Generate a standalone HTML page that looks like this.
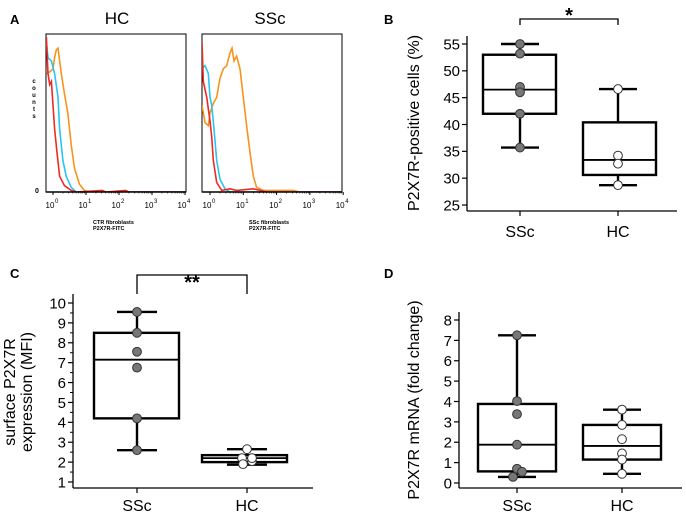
<!DOCTYPE html>
<html><head><meta charset="utf-8"><style>
body{margin:0;background:#fff}
svg{display:block;font-family:"Liberation Sans",Arial,sans-serif}
</style></head><body>
<svg id="fig" width="686" height="516" viewBox="0 0 686 516"></svg>
<script>
// ---------- Panel A data (log10 intensity, relative counts) ----------
const hcOrangeX=[-0.2,-0.1,0.0,0.05,0.1,0.15,0.25,0.35,0.45,0.55,0.65,0.8,0.95,1.1,4];
const hcOrangeY=[0.75,0.76,0.78,0.85,0.9,0.91,0.75,0.62,0.5,0.3,0.15,0.05,0.01,0,0];
const hcBlueX=[-0.2,-0.15,-0.05,0.05,0.15,0.2,0.3,0.4,0.55,0.7,4];
const hcBlueY=[0.95,0.85,0.83,0.75,0.6,0.4,0.2,0.1,0.03,0,0];
const hcRedX=[-0.2,-0.15,-0.1,-0.05,0.0,0.05,0.12,0.2,0.35,0.55,0.7,1.5,1.6,2.2,2.3,4];
const hcRedY=[0.98,0.75,0.68,0.7,0.55,0.4,0.25,0.1,0.04,0.01,0,0.01,0,0.01,0,0];
const ssOrangeX=[-0.24,-0.15,-0.05,0.0,0.1,0.2,0.3,0.4,0.5,0.6,0.66,0.72,0.8,0.9,1.0,1.1,1.2,1.3,1.4,1.6,2.5,2.7,4];
const ssOrangeY=[0.55,0.44,0.42,0.5,0.56,0.6,0.72,0.78,0.8,0.88,0.91,0.83,0.86,0.78,0.6,0.42,0.25,0.1,0.03,0.01,0.01,0,0];
const ssBlueX=[-0.24,-0.15,-0.05,0.0,0.05,0.12,0.2,0.3,0.45,0.6,4];
const ssBlueY=[0.78,0.8,0.75,0.6,0.55,0.4,0.2,0.08,0.02,0,0];
const ssRedX=[-0.24,-0.2,-0.1,0.0,0.05,0.1,0.2,0.35,0.6,0.8,1.3,1.5,1.7,4];
const ssRedY=[0.95,0.7,0.6,0.45,0.35,0.2,0.06,0.01,0.02,0.01,0.02,0.01,0,0];
const decadeLabels=["0","1","2","3","4"];
// ---------- Panel B ----------
const catLabels=["SSc","HC"];
const bTicks=[25,30,35,40,45,50,55];
const bSSc=[55,53.2,47,46,42,35.7];
const bHC=[46.6,34.2,32.7,28.7];
const bStats=[[35.7,42,46.5,53,55],[28.7,30.6,33.4,40.4,46.6]];
// ---------- Panel C ----------
const cTicks=[1,2,3,4,5,6,7,8,9,10];
const cSSc=[9.55,8.5,7.55,6.75,4.2,2.6];
const cHC=[2.65,2.2,2.05,1.9,2.2];
const cStats=[[2.6,4.2,7.15,8.5,9.55],[1.87,2.0,2.2,2.35,2.65]];
// ---------- Panel D ----------
const dTicks=[0,1,2,3,4,5,6,7,8];
const dSSc=[7.25,4.02,3.38,1.88,0.7,0.55,0.3];
const dHC=[3.6,2.85,2.15,1.45,1.15,0.45];
const dStats=[[0.3,0.57,1.88,3.88,7.25],[0.45,1.15,1.82,2.85,3.6]];

const NS="http://www.w3.org/2000/svg";
const svg=document.getElementById('fig');
function el(tag,attrs,parent,text){const e=document.createElementNS(NS,tag);for(const k in attrs)e.setAttribute(k,attrs[k]);if(text!==undefined)e.textContent=text;(parent||svg).appendChild(e);return e;}

// ---- Panel A ----
const gA=el('g',{});


el('text',{x:10,y:24,'font-size':13,'font-weight':'bold'},gA,'A');
function histo(x0,x1,originX,decW,title,titleX,caption,series){
  const yTop=34,yBot=192;
  el('text',{x:titleX,y:24,'font-size':17,'text-anchor':'middle'},gA,title);
  const fr=el('rect',{x:x0,y:yTop,width:x1-x0,height:yBot-yTop,fill:'none',stroke:'#000','stroke-width':1});
  gA.appendChild(fr);
  
  
  const xs=v=>originX+v*decW, ys=c=>yBot-c*(yBot-yTop);
  const cp=el('clipPath',{id:'clip'+title},gA);el('rect',{x:x0,y:yTop,width:x1-x0,height:yBot-yTop},cp);
  series.forEach(s=>{
    const pts=s.x.map((v,i)=>xs(v).toFixed(1)+','+ys(s.y[i]).toFixed(1)).join(' ');
    const p=el('polyline',{points:pts,fill:'none',stroke:s.c,'stroke-width':1.6,'clip-path':'url(#clip'+title+')'},gA);
    
    
  });
  el('line',{x1:x0,y1:yBot,x2:x1,y2:yBot,stroke:'#000','stroke-width':1.5},gA);
  decadeLabels.forEach((d,i)=>{
    const x=xs(i);
    el('line',{x1:x,y1:yBot,x2:x,y2:yBot+3,stroke:'#000'},gA);
    for(let m=2;m<10&&i<4;m++){const xm=xs(i+Math.log10(m));el('line',{x1:xm,y1:yBot,x2:xm,y2:yBot+1.5,stroke:'#000','stroke-width':0.6},gA);}
    el('text',{x:x-3,y:208,'font-size':8,'text-anchor':'middle'},gA,'10');
    el('text',{x:x+2,y:203,'font-size':6},gA,d);
  });
  el('text',{x:x0+(x1-x0)/2-23,y:224,'font-size':5.5,'font-weight':'bold'},gA,caption);
  el('text',{x:x0+(x1-x0)/2-23,y:230,'font-size':5.5,'font-weight':'bold'},gA,'P2X7R-FITC');
}
histo(46,186,53,33,'HC',117,'CTR fibroblasts',[
 {x:hcOrangeX,y:hcOrangeY,c:'#f7941d',n:'hc-orange'},{x:hcBlueX,y:hcBlueY,c:'#29c5f0',n:'hc-blue'},{x:hcRedX,y:hcRedY,c:'#ee2a24',n:'hc-red'}]);
histo(202,342,210,33.3,'SSc',270,'SSc fibroblasts',[
 {x:ssOrangeX,y:ssOrangeY,c:'#f7941d',n:'ssc-orange'},{x:ssBlueX,y:ssBlueY,c:'#29c5f0',n:'ssc-blue'},{x:ssRedX,y:ssRedY,c:'#ee2a24',n:'ssc-red'}]);
['c','o','u','n','t','s'].forEach((ch,i)=>el('text',{x:34,y:83+i*7,'font-size':6,'font-weight':'bold','text-anchor':'middle'},gA,ch));
el('text',{x:37,y:193,'font-size':7,'font-weight':'bold','text-anchor':'middle'},gA,'0');

// ---- Box plot generic ----
function boxPanel(o){
  const g=el('g',{});
  
  
  el('text',{x:o.letterX,y:o.letterY,'font-size':13,'font-weight':'bold'},g,o.id.toUpperCase());
  const ys=v=>o.yPix0+(v-o.v0)*(o.yPix1-o.yPix0)/(o.v1-o.v0);
  el('line',{x1:o.ax,y1:o.axTop,x2:o.ax,y2:o.axY,stroke:'#000','stroke-width':1.3},g);
  el('line',{x1:o.ax,y1:o.axY,x2:o.axRight,y2:o.axY,stroke:'#000','stroke-width':1.3},g);
  o.ticks.forEach((t,i)=>{
    const y=ys(t);
    el('line',{x1:o.ax-5,y1:y,x2:o.ax,y2:y,stroke:'#000','stroke-width':1.2},g);
    if(o.minor&&i<o.ticks.length-1){const ym=ys(t+(o.ticks[1]-o.ticks[0])/2);el('line',{x1:o.ax-3,y1:ym,x2:o.ax,y2:ym,stroke:'#000'},g);}
    const lb=el('text',{x:o.ax-7,y:y+o.fs*0.36,'font-size':o.fs,'text-anchor':'end'},g,String(t));
    
    
  });
  o.titles.forEach((tt,i)=>{
    const t=el('text',{x:0,y:0,'font-size':16,'text-anchor':'middle',transform:`translate(${tt.x},${o.titleY}) rotate(-90)`},g,tt.s);
    
    
  });
  const stats=[o.s1,o.s2], pts=[o.p1,o.p2];
  o.cx.forEach((cx,k)=>{
    el('line',{x1:cx,y1:o.axY,x2:cx,y2:o.axY+5,stroke:'#000','stroke-width':1.2},g);
    const cl=el('text',{x:cx,y:o.catY,'font-size':16,'text-anchor':'middle'},g,catLabels[k]);
    
    
    const s=stats[k];
    el('line',{x1:cx,y1:ys(s[0]),x2:cx,y2:ys(s[4]),stroke:'#000','stroke-width':2.4},g);
    [s[0],s[4]].forEach(v=>el('line',{x1:cx-o.cap,y1:ys(v),x2:cx+o.cap,y2:ys(v),stroke:'#000','stroke-width':2.4},g));
    const b=el('rect',{x:o.bx[k],y:ys(s[3]),width:o.bw,height:ys(s[1])-ys(s[3]),fill:'#fff',stroke:'#000','stroke-width':2.4},g);
    
    
    el('line',{x1:o.bx[k],y1:ys(s[2]),x2:o.bx[k]+o.bw,y2:ys(s[2]),stroke:'#000','stroke-width':1.8},g);
    pts[k].forEach((v,i)=>{
      const off=(o.offs&&o.offs[k]&&o.offs[k][i])||0;
      const c=el('circle',{cx:cx+off,cy:ys(v),r:4.4,fill:k===0?'#777':'#fff',stroke:'#333','stroke-width':1},g);
      
      
    });
  });
  if(o.sig){
    const sg=el('path',{d:`M${o.cx[0]},${o.sig.y2} V${o.sig.y1} H${o.cx[1]} V${o.sig.y2}`,fill:'none',stroke:'#000','stroke-width':1.3},g);
    
    
    el('text',{x:(o.cx[0]+o.cx[1])/2,y:o.sig.ty,'font-size':20,'font-weight':'bold','text-anchor':'middle'},g,o.sig.t);
  }
}
boxPanel({id:'b',letterX:384,letterY:24,v0:55,v1:25,yPix0:44,yPix1:205,ax:467,axTop:36,axY:211,axRight:677,ticks:bTicks,fs:15,
 titles:[{x:419,s:'P2X7R-positive cells (%)'}],titleY:123,cx:[520,618],bx:[483,583],bw:73,cap:19,catY:237,
 s1:bStats[0],s2:bStats[1],p1:bSSc,p2:bHC,sig:{y1:19,y2:25,ty:22,t:'*'}});
boxPanel({id:'c',letterX:10,letterY:278,v0:10,v1:1,yPix0:303,yPix1:482,ax:73,axTop:294,axY:488,axRight:313,ticks:cTicks,fs:15,minor:true,
 titles:[{x:15,s:'surface P2X7R'},{x:32,s:'expression (MFI)'}],titleY:392,cx:[137,247],bx:[94,202],bw:85,cap:20,catY:511,
 s1:cStats[0],s2:cStats[1],p1:cSSc,p2:cHC,offs:[null,[0,-5,5,-4,5]],sig:{y1:275,y2:294,ty:289,t:'**'}});
boxPanel({id:'d',letterX:384,letterY:278,v0:8,v1:0,yPix0:320,yPix1:483,ax:459,axTop:312,axY:488,axRight:682,ticks:dTicks,fs:15,
 titles:[{x:419,s:'P2X7R mRNA (fold change)'}],titleY:400,cx:[517,622],bx:[478,583],bw:78,cap:19,catY:511,
 s1:dStats[0],s2:dStats[1],p1:dSSc,p2:dHC,offs:[[0,0,0,0,0,5,-4],null]});
</script>
</body></html>
